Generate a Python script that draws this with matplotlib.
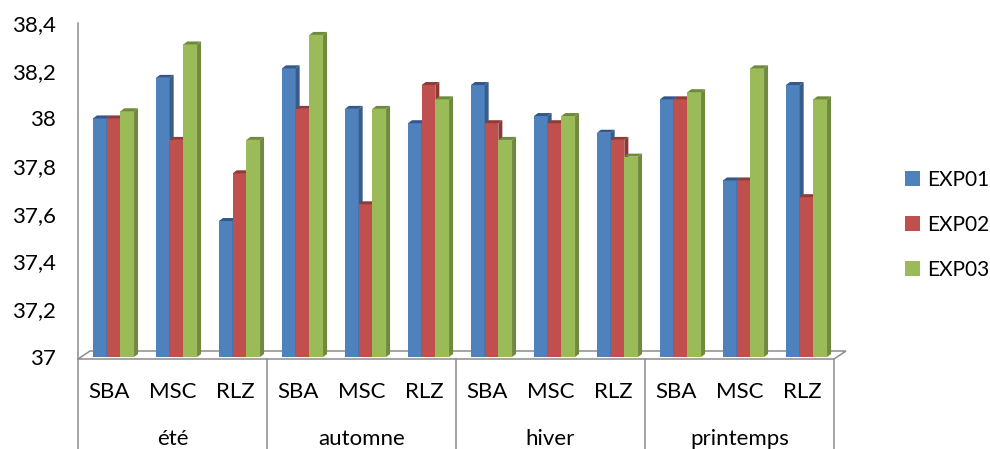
import matplotlib
matplotlib.use("Agg")
import matplotlib.pyplot as plt
from matplotlib.patches import Polygon, Patch

plt.rcParams['font.family'] = ['Lato', 'DejaVu Sans']

# ------------------------------------------------------------------
# Data
# ------------------------------------------------------------------
seasons = ['été', 'automne', 'hiver', 'printemps']
sites = ['SBA', 'MSC', 'RLZ']
series_names = ['EXP01', 'EXP02', 'EXP03']

exp01 = [38.00, 38.17, 37.57, 38.21, 38.04, 37.98, 38.14, 38.01, 37.94, 38.08, 37.74, 38.14]
exp02 = [38.00, 37.91, 37.77, 38.04, 37.64, 38.14, 37.98, 37.98, 37.91, 38.08, 37.74, 37.67]
exp03 = [38.03, 38.31, 37.91, 38.35, 38.04, 38.08, 37.91, 38.01, 37.84, 38.11, 38.21, 38.08]

y_ticks = [37, 37.2, 37.4, 37.6, 37.8, 38, 38.2, 38.4]
y_tick_labels = ['37', '37,2', '37,4', '37,6', '37,8', '38', '38,2', '38,4']

face_colors = ['#4F81BD', '#C0504D', '#9BBB59']
side_colors = ['#385D8A', '#8C3836', '#71893F']
top_colors = ['#33578A', '#923A37', '#6E8A3A']

# ------------------------------------------------------------------
# Figure / axes geometry (pixels -> data units)
# ------------------------------------------------------------------
W, H = 990, 449
fig = plt.figure(figsize=(W / 100, H / 100), dpi=100)
ax_left, ax_right, ax_bottom, ax_top = 78, 834, 357, 23
ax = fig.add_axes([ax_left / W, (H - ax_bottom) / H,
                   (ax_right - ax_left) / W, (ax_bottom - ax_top) / H])

n_cat = len(seasons) * len(sites)
ymin, ymax = 37, 38.4
ax.set_xlim(-0.5, n_cat - 0.5)
ax.set_ylim(ymin, ymax)

px_x = n_cat / (ax_right - ax_left)          # data units per pixel (x)
px_y = (ymax - ymin) / (ax_bottom - ax_top)  # data units per pixel (y)

depth_dx = 4 * px_x
depth_dy = 3 * px_y
bar_w = 13.7 * px_x
shift = 4 * px_x

grey = '#8C8C8C'

# floor of the 3D plot
floor = Polygon([(-0.5, ymin - 2 * px_y), (n_cat - 0.5, ymin - 2 * px_y),
                 (n_cat - 0.5 + 12 * px_x, ymin + 6 * px_y),
                 (-0.5 + 12 * px_x, ymin + 6 * px_y)],
                closed=True, facecolor='white', edgecolor=grey, lw=1.1,
                clip_on=False, zorder=1)
ax.add_patch(floor)

# vertical value axis line
ax.plot([-0.5, -0.5], [ymin - 2 * px_y, ymax], color=grey, lw=1.1,
        clip_on=False, zorder=1)

# ------------------------------------------------------------------
# Bars (front face + side + top cap)
# ------------------------------------------------------------------
all_series = [exp01, exp02, exp03]
z = 2
for i in range(n_cat):
    for k, vals in enumerate(all_series):
        v = vals[i]
        x0 = i + shift - 1.5 * bar_w + k * bar_w
        x1 = x0 + bar_w
        ax.bar(x0, v - ymin, bottom=ymin, width=bar_w, align='edge',
               color=face_colors[k], edgecolor='none', zorder=z)
        side = Polygon([(x1, ymin), (x1 + depth_dx, ymin + depth_dy),
                        (x1 + depth_dx, v + depth_dy), (x1, v)],
                       closed=True, facecolor=side_colors[k],
                       edgecolor='none', zorder=z)
        top = Polygon([(x0, v), (x1, v), (x1 + depth_dx, v + depth_dy),
                       (x0 + depth_dx, v + depth_dy)],
                      closed=True, facecolor=top_colors[k],
                      edgecolor='none', zorder=z)
        ax.add_patch(side)
        ax.add_patch(top)
        z += 1

# ------------------------------------------------------------------
# Axes styling
# ------------------------------------------------------------------
for sp in ax.spines.values():
    sp.set_visible(False)
ax.set_xticks([])
ax.set_yticks(y_ticks)
ax.set_yticklabels(y_tick_labels, fontsize=16)
ax.tick_params(axis='y', length=0, pad=16)
ax.patch.set_alpha(0)

# multi-level category axis
xt = ax.get_xaxis_transform()
bottom_frac = -(H - ax_bottom) / (ax_bottom - ax_top)
for g in range(len(seasons) + 1):
    xs = g * len(sites) - 0.5
    ax.plot([xs, xs], [-2 / (ax_bottom - ax_top), bottom_frac], color=grey,
            lw=1.1, transform=xt, clip_on=False)
for i in range(n_cat):
    ax.text(i, -0.105, sites[i % len(sites)], transform=xt, ha='center',
            va='center', fontsize=16)
for g, s in enumerate(seasons):
    ax.text(g * len(sites) + 1, -0.245, s, transform=xt, ha='center',
            va='center', fontsize=16)

# legend
handles = [Patch(facecolor=c, edgecolor='none') for c in face_colors]
fig.legend(handles, series_names, loc='center left',
           bbox_to_anchor=(905 / W, 1 - 225 / H), frameon=False,
           borderpad=0, borderaxespad=0,
           fontsize=15, handlelength=0.7, handleheight=0.7,
           handletextpad=0.35, labelspacing=1.2)

fig.savefig('out.png', dpi=100)
